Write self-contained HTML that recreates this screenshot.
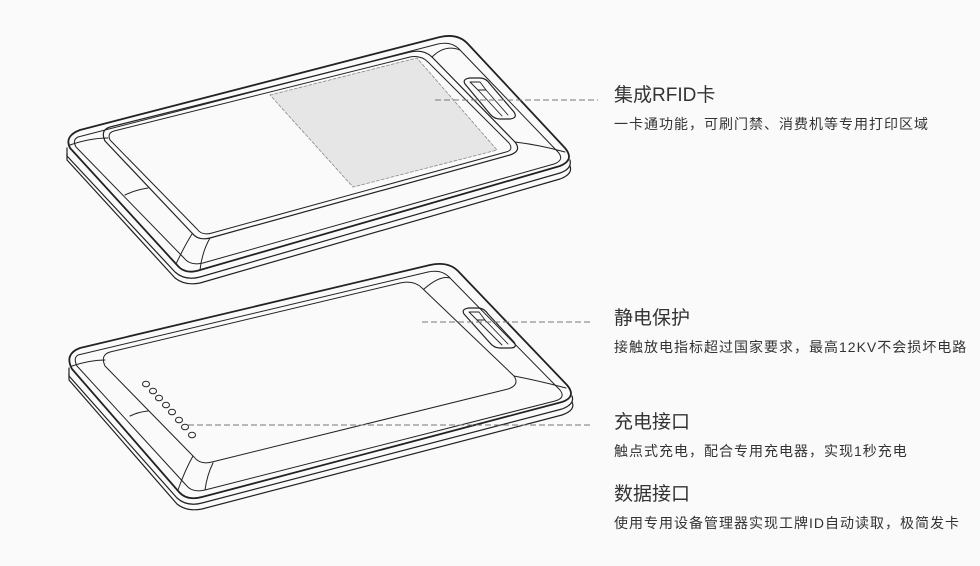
<!DOCTYPE html>
<html><head><meta charset="utf-8"><style>
html,body{margin:0;padding:0;background:#fafafa;}
body{width:980px;height:566px;position:relative;overflow:hidden;font-family:"Liberation Sans","Noto Sans CJK SC",sans-serif;color:#333;}
.t{position:absolute;left:614px;font-size:19px;line-height:22px;white-space:nowrap;}
.s{position:absolute;left:614px;font-size:14px;line-height:18px;white-space:nowrap;color:#333;letter-spacing:1px;}
svg{position:absolute;left:0;top:0;}
</style></head><body>
<svg width="980" height="566" viewBox="0 0 980 566" fill="none" stroke="#222" stroke-linejoin="round" stroke-linecap="round">
<g stroke-width="1.2">
<path d="M80,130 L440,37 Q458,33 468,44 L565,148 Q575,160 560,166 L200,270 Q185,275 177,265 L70,148 Q64,136 80,130 Z" stroke-width="1.8"/>
<path d="M67,148 L67,156 L175,272 Q185,281 200,277 L560,173 Q572,169 570,160" />
<path d="M67,154 L67,160 L175,278 Q185,286 200,283 L560,179 Q573,174 570,166" />
<path d="M78,137 L438,44 Q452,41 460,50 L558,152 Q565,160 554,164 L203,263 Q190,266 184,258 L76,147 Q72,140 78,137 Z" stroke-width="1"/>
<path d="M110,127 L410,52 Q424,49 432,57 L515,142 Q522,151 510,155 L210,238 Q198,241 192,233 L105,141 Q100,130 110,127 Z"/>
<path d="M114,131 L410,57 Q421,55 428,62 L509,143 Q514,150 506,152 L212,233 Q202,236 197,229 L110,140 Q107,133 114,131 Z" stroke-width="1"/>
<path d="M70,145 Q90,138 108,138 M460,50 Q445,44 432,57 M515,142 Q540,145 565,152 M200,270 Q202,252 210,238 M176,264 Q185,245 192,234 M125,195 Q135,190 148,188" stroke-width="1"/>
<polygon points="270,95 417,58 497,150 353,187" fill="#e6e6e6" stroke="#888" stroke-width="0.8" stroke-dasharray="3,2"/>
<path d="M465,84 Q462,79 470,78 L480,78 Q486,78 490,84 L514,112 Q518,118 510,119 L500,119 Q494,119 490,114 Z"/>
<path d="M470,82 L480,82 L486,90 L478,90 Z M478,90 L502,116 M486,90 L508,115" stroke-width="0.9"/>
</g>
<g stroke-width="1.2">
<path d="M80,348 L430,265 Q448,261 458,271 L567,385 Q577,397 562,402 L202,497 Q187,501 179,492 L72,369 Q64,354 80,348 Z" stroke-width="1.8"/>
<path d="M69,368 L69,376 L177,498 Q187,507 202,503 L562,409 Q575,404 572,396" />
<path d="M69,374 L69,380 L177,504 Q187,512 202,509 L562,415 Q576,410 572,402" />
<path d="M78,355 L428,272 Q442,269 450,278 L560,390 Q566,398 555,401 L205,490 Q192,493 186,485 L77,366 Q73,358 78,355 Z" stroke-width="1"/>
<path d="M110,352 L400,283 Q414,280 422,288 L514,376 Q520,385 508,389 L212,462 Q200,465 194,457 L105,366 Q100,355 110,352 Z" stroke-width="1"/>
<path d="M72,366 Q90,360 105,360 M450,278 Q440,275 424,289 M514,376 Q540,381 566,388 M205,490 Q207,475 213,463 M178,490 Q185,470 193,456 M130,416 Q138,412 148,411" stroke-width="1"/>
<path d="M464,314 Q461,309 469,308 L478,308 Q484,308 488,314 L514,342 Q518,348 510,348 L500,348 Q494,348 490,343 Z"/>
<path d="M469,312 L479,312 L485,320 L477,320 Z M477,320 L502,345 M485,320 L508,344" stroke-width="0.9"/>
<g stroke-width="1">
<ellipse cx="146" cy="384" rx="3.5" ry="2.8"/>
<ellipse cx="153" cy="391" rx="3.5" ry="2.8"/>
<ellipse cx="159" cy="398" rx="3.5" ry="2.8"/>
<ellipse cx="166" cy="405" rx="3.5" ry="2.8"/>
<ellipse cx="172" cy="412" rx="3.5" ry="2.8"/>
<ellipse cx="179" cy="420" rx="3.5" ry="2.8"/>
<ellipse cx="185" cy="427" rx="3.5" ry="2.8"/>
<ellipse cx="192" cy="435" rx="3.5" ry="2.8"/>
</g>
</g>
<g stroke="#777" stroke-width="1" stroke-dasharray="6,3" stroke-linecap="butt">
<line x1="435" y1="100" x2="598" y2="100"/>
<line x1="422" y1="322" x2="590" y2="322"/>
<line x1="188" y1="425" x2="590" y2="425"/>
</g>
</svg>
<div class="t" style="top:85px">集成RFID卡</div>
<div class="s" style="top:115px">一卡通功能，可刷门禁、消费机等专用打印区域</div>
<div class="t" style="top:308px">静电保护</div>
<div class="s" style="top:338px">接触放电指标超过国家要求，最高12KV不会损坏电路</div>
<div class="t" style="top:412px">充电接口</div>
<div class="s" style="top:442px">触点式充电，配合专用充电器，实现1秒充电</div>
<div class="t" style="top:484px">数据接口</div>
<div class="s" style="top:514px">使用专用设备管理器实现工牌ID自动读取，极简发卡</div>
</body></html>
